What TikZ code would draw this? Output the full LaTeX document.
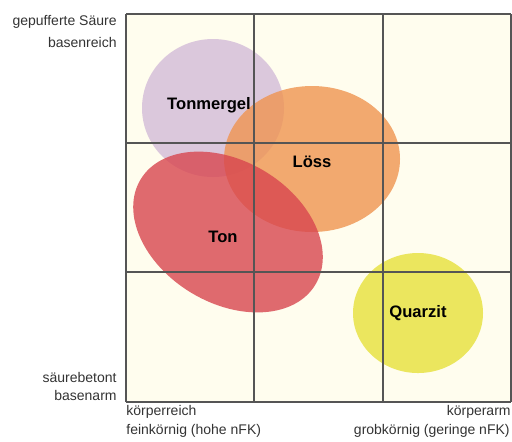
\documentclass[tikz,border=0pt]{standalone}
\usepackage{fontspec}
\setmainfont{Liberation Sans}
\usetikzlibrary{positioning}

\definecolor{cream}{HTML}{FFFDEE}
\definecolor{gridgray}{HTML}{555555}
\definecolor{textgray}{HTML}{333333}
\definecolor{tonmergelc}{HTML}{D3BBD8}
\definecolor{loessc}{HTML}{EF9450}
\definecolor{tonc}{HTML}{D8464F}
\definecolor{quarzitc}{HTML}{E6E13A}

\tikzset{
  soil/.style = {fill opacity=0.8},
  soillabel/.style = {font=\fontsize{8.3}{10}\selectfont\bfseries, text=black},
  axislabel/.style = {font=\fontsize{7}{10}\selectfont, text=textgray, inner sep=0pt},
  gridline/.style = {draw=gridgray, line width=0.75pt}
}

\begin{document}
\begin{tikzpicture}[x=0.5pt,y=-0.5pt]
      \useasboundingbox (0,0) rectangle (512,441);

      % field
      \fill[cream] (126,14) rectangle (511,402);

      % soils
      \fill[soil, tonmergelc] (213,108) ellipse (71 and 69);
      \fill[soil, loessc] (312,159) ellipse (88 and 73);
      \fill[soil, tonc, shift={(228,232)}, rotate=-31] (0,0) ellipse (102 and 71);
      \fill[soil, quarzitc] (418,313) ellipse (65 and 60);

      % grid
      \foreach \x in {126,254,383,511}
        \draw[gridline] (\x,14) -- (\x,402);
      \foreach \y in {14,143,272,402}
        \draw[gridline] (126,\y) -- (511,\y);

      \node[soillabel] (tonmergel) at (209,105) {Tonmergel};
      \node[soillabel] (loess) at (312,162) {Löss};
      \node[soillabel] (ton) at (223,237) {Ton};
      \node[soillabel] (quarzit) at (418,313) {Quarzit};

      % axes
      \node[axislabel, anchor=east] (gepuffert) at (117,22) {gepufferte Säure};
      \node[axislabel, anchor=east] (basenreich) at (117,42) {basenreich};
      \node[axislabel, anchor=east] (saeurebetont) at (117,377) {säurebetont};
      \node[axislabel, anchor=east] (basenarm) at (117,395) {basenarm};

      \node[axislabel, anchor=west] (koerperreich) at (126,412) {körperreich};
      \node[axislabel, anchor=west] (feinkoernig) at (126,431) {feinkörnig (hohe nFK)};
      \node[axislabel, anchor=east] (koerperarm) at (511,412) {körperarm};
      \node[axislabel, anchor=east] (grobkoernig) at (510,431) {grobkörnig (geringe nFK)};
    \end{tikzpicture}
\end{document}
